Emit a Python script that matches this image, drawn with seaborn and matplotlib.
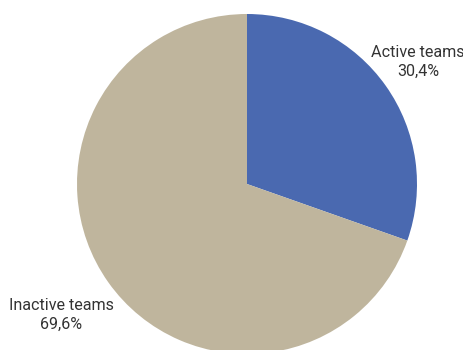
import matplotlib
matplotlib.use("Agg")
import matplotlib.pyplot as plt
import seaborn as sns

sns.set_theme(style="white")
plt.rcParams['font.family'] = ['Roboto', 'DejaVu Sans']

categories = ["Active teams", "Inactive teams"]
shares = [30.4, 69.6]
colors = ["#4a69b0", "#bfb59d"]

fig = plt.figure(figsize=(4.64, 3.5), dpi=100)
ax = fig.add_axes([0, 0, 1, 1])

ax.pie(shares, colors=colors, startangle=90, counterclock=False,
       radius=1.0, center=(0, 0), wedgeprops=dict(linewidth=0))

# Frame the pie so it sits right of centre and runs off the bottom edge
r_px = 170.0
cx, cy = 247.0, 184.0
ax.set_xlim(-cx / r_px, (464 - cx) / r_px)
ax.set_ylim(-(350 - cy) / r_px, cy / r_px)
ax.set_aspect("equal")
ax.axis("off")

def pct(v):
    return f"{v:.1f}%".replace(".", ",")

label_pos = [((418 - cx) / r_px, (cy - 62) / r_px),
             ((61 - cx) / r_px, (cy - 315) / r_px)]
for name, v, (x, y) in zip(categories, shares, label_pos):
    ax.text(x, y, f"{name}\n{pct(v)}", ha="center", va="center",
            fontsize=11.6, color="#333333", linespacing=1.3)

fig.savefig("out.png", dpi=100)
